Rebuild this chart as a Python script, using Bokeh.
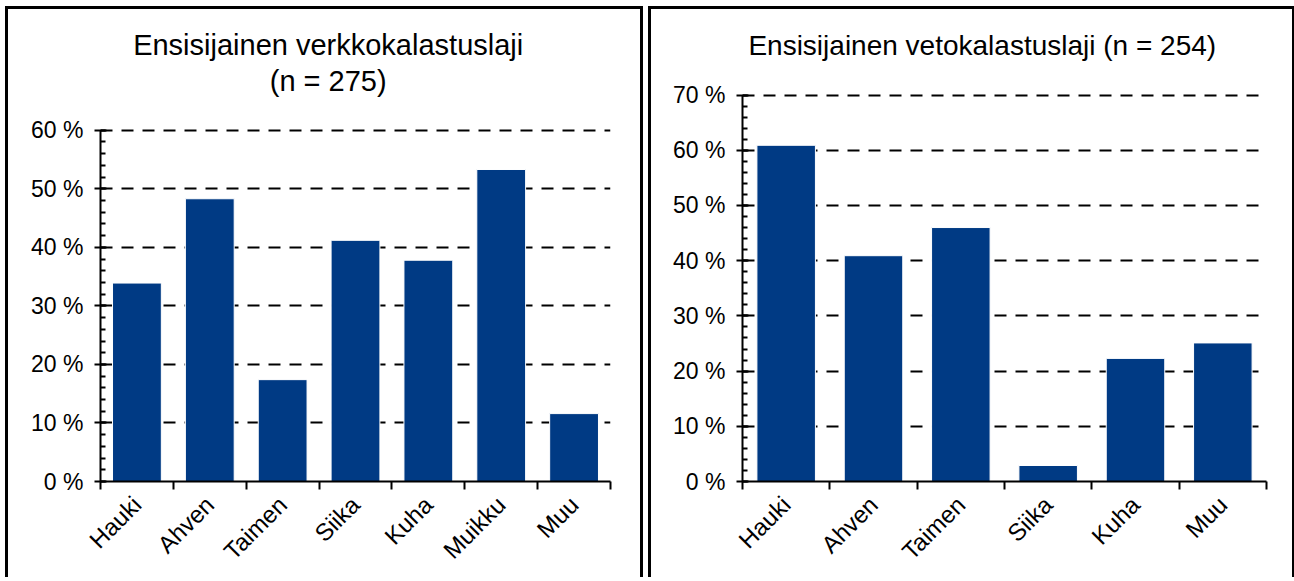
from math import pi
import numpy as np
from bokeh.plotting import figure
from bokeh.models import (Range1d, LinearAxis, FixedTicker, PrintfTickFormatter,
                          Label, ColumnDataSource, Spacer)
from bokeh.layouts import row, column
from bokeh.embed import file_html
from bokeh.resources import INLINE

# ---- data ----
cats_left = ["Hauki", "Ahven", "Taimen", "Siika", "Kuha", "Muikku", "Muu"]
vals_left = [33.9, 48.3, 17.4, 41.2, 37.8, 53.3, 11.6]
title_left = ["Ensisijainen verkkokalastuslaji", "(n = 275)"]
yticks_left = [0, 10, 20, 30, 40, 50, 60]

cats_right = ["Hauki", "Ahven", "Taimen", "Siika", "Kuha", "Muu"]
vals_right = [60.9, 40.9, 46.0, 2.9, 22.3, 25.1]
title_right = ["Ensisijainen vetokalastuslaji (n = 254)"]
yticks_right = [0, 10, 20, 30, 40, 50, 60, 70]

BAR = "#003A84"
FONT = "Liberation Sans"
FRAME_H = 469


def panel(cats, vals, titles, yticks, frame_w, mb_left, mb_right, axis_px,
          title_xpx, title_ypx, title_size):
    """axis_px: pixel height of the tick range; title positions in pixels
    measured from frame left / frame bottom."""
    n = len(cats)
    ymax = yticks[-1]
    px_per_unit = axis_px / ymax
    ytop = FRAME_H / px_per_unit
    xpx = frame_w / n
    centers = [float(c) for c in np.arange(n) + 0.5]
    bounds = [float(b) for b in np.arange(n + 1)]
    p = figure(x_range=Range1d(0, n), y_range=Range1d(0, ytop),
               frame_width=frame_w, frame_height=FRAME_H,
               min_border_left=mb_left, min_border_right=mb_right,
               min_border_top=0, min_border_bottom=99,
               x_axis_location=None, y_axis_location="left",
               output_backend="svg", toolbar_location=None)
    p.outline_line_color = None
    p.styles = {"border-top": "3px solid black", "border-left": "3px solid black",
                "border-right": "3px solid black"}
    p.xgrid.visible = False

    src = ColumnDataSource(dict(x=centers, top=vals, cat=cats))
    p.vbar(x="x", top="top", width=0.67, source=src, fill_color=BAR,
           line_color="white", line_width=1)

    # y axis
    ax = p.yaxis[0]
    ax.ticker = FixedTicker(ticks=yticks, minor_ticks=list(range(0, ymax + 1, 2)))
    ax.formatter = PrintfTickFormatter(format="%d %%")
    ax.bounds = (0, ymax)
    ax.major_tick_in = 6
    ax.major_tick_out = 6
    ax.minor_tick_in = 5
    ax.minor_tick_out = 0
    ax.axis_line_width = 2
    ax.major_tick_line_width = 2
    ax.minor_tick_line_width = 2
    ax.axis_line_color = "black"
    ax.major_label_text_font = FONT
    ax.major_label_text_font_size = "23px"
    ax.major_label_text_color = "black"
    ax.major_label_standoff = 11

    p.ygrid.grid_line_color = "black"
    p.ygrid.grid_line_dash = "12 9"
    p.ygrid.grid_line_width = 2

    # x axis: labels at category centres, ticks at category boundaries
    cax = LinearAxis(ticker=FixedTicker(ticks=centers, minor_ticks=bounds),
                     major_label_overrides={c: name for c, name in zip(centers, cats)})
    cax.axis_line_width = 2
    cax.axis_line_color = "black"
    cax.major_tick_line_color = None
    cax.major_tick_in = 0
    cax.major_tick_out = 8
    cax.minor_tick_in = 0
    cax.minor_tick_out = 8
    cax.minor_tick_line_width = 2
    cax.minor_tick_line_color = "black"
    cax.major_label_orientation = pi / 4
    cax.major_label_text_font = FONT
    cax.major_label_text_font_size = "24px"
    cax.major_label_text_color = "black"
    cax.major_label_standoff = 11
    p.add_layout(cax, "below")

    for t, ty in zip(titles, title_ypx):
        p.add_layout(Label(x=title_xpx / xpx, y=ty / px_per_unit, text=t,
                           text_align="center", text_baseline="middle",
                           text_font=FONT, text_font_size=title_size,
                           text_color="black"))
    return p


p1 = panel(cats_left, vals_left, title_left, yticks_left, 504, 92, 36, 349,
           225, [434, 398], "29px")
p2 = panel(cats_right, vals_right, title_right, yticks_right, 518, 91, 32, 384,
           237, [433], "28px")

layout = column(Spacer(height=6),
                row(Spacer(width=5), p1, Spacer(width=5), p2))
open("out.html", "w").write(file_html(layout, INLINE))
